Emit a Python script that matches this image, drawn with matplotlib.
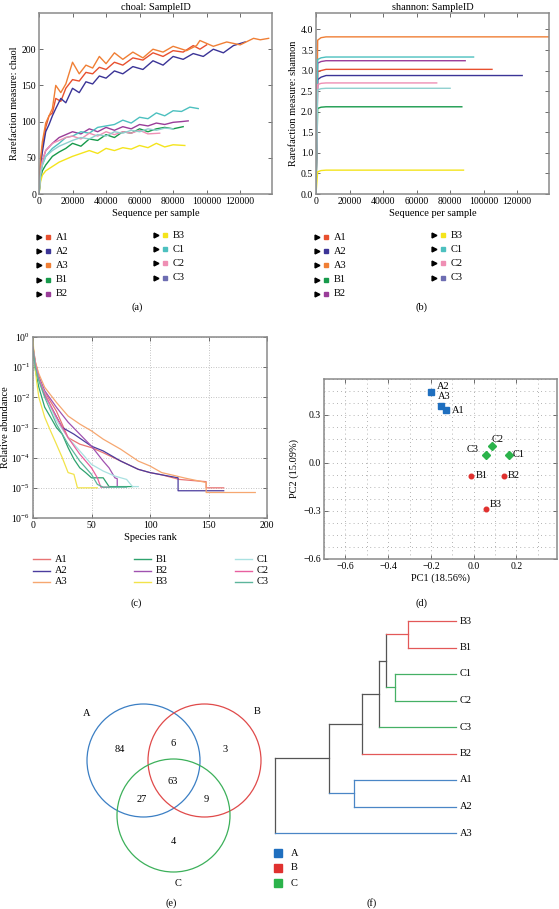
import numpy as np
import matplotlib
matplotlib.use('Agg')
import matplotlib.pyplot as plt
from matplotlib.patches import Circle
from matplotlib.ticker import MultipleLocator

plt.rcParams['font.family'] = ['Liberation Serif', 'DejaVu Serif']
plt.rcParams['mathtext.fontset'] = 'stix'
plt.rcParams['font.size'] = 7

W, H = 559, 909

# ---------------- data ----------------
samples = ['A1', 'A2', 'A3', 'B1', 'B2', 'B3', 'C1', 'C2', 'C3']

# legend colours of panels (a)/(b) and line colours
rare_colors = ['#e8502f', '#3b3497', '#f07f35', '#179a4b', '#9a3d99',
               '#f4e41c', '#4cc0bf', '#ef8fb4', '#6d6db2']
rare_line_colors = ['#e8502f', '#3b3497', '#f07f35', '#179a4b', '#9a3d99',
                    '#f4e41c', '#4cc0bf', '#ef8fb4', '#8fd0cf']

# (a) chao1 rarefaction
chao_x = {
    'A1': [0, 1000, 2000, 4000, 6000, 8000, 10000, 13000, 16000, 20000, 24000, 28000, 32000, 36000,
           40000, 45000, 50000, 56000, 62000, 68000, 74000, 80000, 86000, 92000, 96000, 100000],
    'A2': [0, 1000, 2000, 4000, 6000, 8000, 10000, 13000, 16000, 20000, 24000, 28000, 32000, 36000,
           40000, 45000, 50000, 56000, 62000, 68000, 74000, 80000, 86000, 92000, 98000, 104000,
           110000, 116000, 123000],
    'A3': [0, 1000, 2000, 4000, 6000, 8000, 10000, 13000, 16000, 20000, 24000, 28000, 32000, 36000,
           40000, 45000, 50000, 56000, 62000, 68000, 74000, 80000, 88000, 94000, 96000, 104000,
           112000, 120000, 128000, 132000, 137000],
    'B1': [0, 1000, 2000, 4000, 8000, 12000, 16000, 20000, 25000, 30000, 35000, 40000, 45000, 50000,
           55000, 60000, 65000, 70000, 75000, 80000, 86000],
    'B2': [0, 1000, 2000, 4000, 8000, 12000, 16000, 20000, 25000, 30000, 35000, 40000, 45000, 50000,
           55000, 60000, 65000, 70000, 75000, 80000, 85000, 89000],
    'B3': [0, 1000, 2000, 4000, 8000, 12000, 16000, 20000, 25000, 30000, 35000, 40000, 45000, 50000,
           55000, 60000, 65000, 70000, 75000, 80000, 87000],
    'C1': [0, 1000, 2000, 4000, 8000, 12000, 16000, 20000, 25000, 30000, 35000, 40000, 45000, 50000,
           55000, 60000, 65000, 70000, 75000, 80000, 85000, 90000, 95000],
    'C2': [0, 1000, 2000, 4000, 8000, 12000, 16000, 20000, 25000, 30000, 35000, 40000, 45000, 50000,
           55000, 60000, 65000, 72000],
    'C3': [0, 1000, 2000, 4000, 8000, 12000, 16000, 20000, 25000, 30000, 35000, 40000, 45000, 50000,
           55000, 60000, 65000, 70000, 75000, 80000],
}
chao_y = {
    'A1': [0, 45, 65, 92, 108, 112, 132, 128, 146, 158, 156, 168, 166, 175, 172, 182, 178, 188, 185,
           195, 190, 198, 196, 205, 200, 206],
    'A2': [0, 40, 58, 86, 96, 108, 118, 132, 126, 146, 140, 155, 152, 163, 160, 170, 166, 176, 172,
           184, 178, 190, 186, 194, 190, 200, 195, 205, 210],
    'A3': [0, 50, 72, 98, 108, 118, 150, 140, 152, 182, 166, 178, 174, 190, 180, 195, 186, 196, 188,
           200, 196, 204, 198, 205, 212, 204, 210, 206, 215, 213, 215],
    'B1': [0, 22, 32, 40, 52, 58, 63, 70, 66, 76, 74, 82, 78, 86, 84, 90, 86, 90, 92, 90, 93],
    'B2': [0, 30, 45, 60, 70, 78, 82, 86, 83, 90, 86, 92, 88, 93, 90, 96, 94, 98, 96, 99, 100, 101],
    'B3': [0, 18, 26, 32, 38, 44, 48, 52, 56, 60, 56, 63, 60, 64, 62, 67, 64, 70, 65, 68, 67],
    'C1': [0, 28, 40, 52, 63, 70, 78, 80, 86, 84, 92, 94, 96, 102, 98, 106, 104, 112, 108, 115, 114,
           120, 118],
    'C2': [0, 32, 46, 60, 70, 74, 78, 80, 76, 84, 80, 86, 82, 86, 84, 88, 83, 84],
    'C3': [0, 28, 40, 52, 60, 66, 70, 74, 78, 76, 82, 80, 86, 84, 88, 86, 90, 88, 91, 90],
}

# (b) shannon rarefaction
shan_x = {
    'A1': [0, 1000, 3000, 6000, 105000],
    'A2': [0, 1000, 3000, 6000, 123000],
    'A3': [0, 1000, 3000, 6000, 139000],
    'B1': [0, 1000, 3000, 6000, 87000],
    'B2': [0, 1000, 3000, 6000, 89000],
    'B3': [0, 1000, 3000, 6000, 88000],
    'C1': [0, 1000, 3000, 6000, 94000],
    'C2': [0, 1000, 3000, 6000, 72000],
    'C3': [0, 1000, 3000, 6000, 80000],
}
shan_y = {
    'A1': [0, 2.98, 3.0, 3.03, 3.03],
    'A2': [0, 2.78, 2.84, 2.88, 2.88],
    'A3': [0, 3.74, 3.80, 3.82, 3.82],
    'B1': [0, 2.08, 2.11, 2.12, 2.12],
    'B2': [0, 3.18, 3.22, 3.24, 3.24],
    'B3': [0, 0.54, 0.57, 0.58, 0.58],
    'C1': [0, 3.27, 3.31, 3.33, 3.33],
    'C2': [0, 2.66, 2.69, 2.70, 2.70],
    'C3': [0, 2.53, 2.56, 2.57, 2.57],
}

# (c) rank abundance
rank_colors = ['#e87474', '#4b3c9e', '#f6a770', '#2ea36e', '#a052b0',
               '#f2e34a', '#a9e1e1', '#e8609f', '#5cb59c']
rank_x = {
    'A1': [0, 2, 5, 10, 20, 30, 40, 50, 60, 75, 90, 100, 110, 125, 125, 148, 148, 163],
    'A2': [0, 2, 5, 10, 25, 35, 50, 60, 75, 90, 100, 110, 124, 124, 163],
    'A3': [0, 2, 5, 10, 20, 30, 40, 50, 60, 75, 90, 100, 110, 120, 130, 148, 148, 190],
    'B1': [0, 2, 5, 10, 15, 20, 25, 30, 35, 40, 45, 50, 60, 65, 85],
    'B2': [0, 2, 5, 10, 20, 30, 40, 50, 60, 65, 70, 72, 72],
    'B3': [0, 1, 3, 5, 10, 15, 20, 25, 30, 35, 38, 40, 55],
    'C1': [0, 2, 5, 10, 20, 30, 40, 50, 60, 70, 80, 85, 90],
    'C2': [0, 2, 5, 10, 20, 30, 40, 50, 55, 58, 65],
    'C3': [0, 2, 5, 10, 20, 30, 40, 50, 55, 60, 80],
}
rank_y = {
    'A1': [0.5, 0.15, 0.05, 0.015, 3.5e-3, 4.6e-4, 2.8e-4, 2.15e-4, 1.46e-4, 7.7e-5, 4.1e-5, 3.2e-5,
           2.7e-5, 1.9e-5, 1.9e-5, 1.6e-5, 1e-5, 1e-5],
    'A2': [0.45, 0.12, 0.04, 0.012, 1e-3, 6e-4, 2.4e-4, 1.67e-4, 7.7e-5, 4.1e-5, 3.2e-5, 2.7e-5,
           2.15e-5, 8e-6, 8e-6],
    'A3': [0.5, 0.15, 0.06, 0.0215, 6.8e-3, 2.4e-3, 1.3e-3, 7.7e-4, 4.1e-4, 1.9e-4, 7.7e-5, 5.3e-5,
           3.2e-5, 2.6e-5, 2.1e-5, 1.5e-5, 7e-6, 7e-6],
    'B1': [0.4, 0.08, 0.0215, 4.7e-3, 2.2e-3, 1e-3, 6e-4, 2.15e-4, 8.9e-5, 4.6e-5, 3.2e-5, 2.15e-5,
           2.15e-5, 1.1e-5, 1.1e-5],
    'B2': [0.45, 0.12, 0.045, 0.0166, 4.7e-3, 1.5e-3, 6e-4, 2.4e-4, 7.7e-5, 4.6e-5, 2.15e-5, 2e-5,
           1.2e-5],
    'B3': [0.9, 0.2, 0.036, 0.01, 2.2e-3, 7.7e-4, 2.8e-4, 1e-4, 3.2e-5, 2.8e-5, 1e-5, 1e-5, 1e-5],
    'C1': [0.45, 0.12, 0.04, 0.014, 1.7e-3, 4.6e-4, 1.67e-4, 6e-5, 3.6e-5, 2.45e-5, 1.9e-5, 1.1e-5,
           1.1e-5],
    'C2': [0.45, 0.12, 0.04, 0.0129, 2.2e-3, 4.6e-4, 1.3e-4, 4.6e-5, 2.15e-5, 1.05e-5, 1.05e-5],
    'C3': [0.4, 0.1, 0.035, 0.01, 1.3e-3, 2.8e-4, 7.7e-5, 2.8e-5, 1.3e-5, 1.05e-5, 1.05e-5],
}

# (d) PCoA
pc1 = [-0.13, -0.20, -0.153, -0.01, 0.14, 0.056, 0.165, 0.085, 0.056]
pc2 = [0.33, 0.444, 0.356, -0.081, -0.081, -0.288, 0.05, 0.106, 0.05]
pc_label_dx = [4, 4, -2, 3, 3, 3, 3, 0, -14]
pc_label_dy = [0, 4, 7, 0, 0, 3, 0, 5, 4]

# (e) Venn counts
venn_sets = ['A', 'B', 'C']
venn_counts = {'A': 84, 'AB': 6, 'B': 3, 'ABC': 63, 'AC': 27, 'BC': 9, 'C': 4}

# (f) dendrogram (leaves top to bottom, merges like a linkage table)
leaves = ['B3', 'B1', 'C1', 'C2', 'C3', 'B2', 'A1', 'A2', 'A3']
merges = [(0, 1, 0.265), (2, 3, 0.337), (9, 10, 0.387), (11, 4, 0.425),
          (12, 5, 0.519), (6, 7, 0.564), (13, 14, 0.702), (15, 8, 1.0)]

group_colors = {'A': '#1f6fbf', 'B': '#e0312f', 'C': '#2bb34b'}
dendro_colors = {'A': '#4a86c6', 'B': '#e35858', 'C': '#45b065'}
venn_colors = {'A': '#3b7fc4', 'B': '#e04a4a', 'C': '#3cb05a'}

# ---------------- layout helpers ----------------
fig = plt.figure(figsize=(W / 100, H / 100), dpi=100)


def px_axes(l, t, r, b):
    return fig.add_axes([l / W, 1 - b / H, (r - l) / W, (b - t) / H])


def style_box(ax):
    for s in ax.spines.values():
        s.set_color('#8a8a8a')
        s.set_linewidth(1.1)
    ax.tick_params(direction='in', top=True, right=True, length=3, width=0.6,
                   color='#555555', labelsize=7, pad=2)


ov = fig.add_axes([0, 0, 1, 1], zorder=-1)
ov.set_xlim(0, W)
ov.set_ylim(H, 0)
ov.axis('off')

# ---------------- (a) ----------------
ax = px_axes(39, 13, 272, 194)
for i, s in enumerate(samples):
    ax.plot(chao_x[s], chao_y[s], color=rare_line_colors[i], lw=1.0)
ax.set_xlim(0, 139000)
ax.set_ylim(0, 250)
ax.set_xticks([0, 20000, 40000, 60000, 80000, 100000, 120000])
ax.set_yticks([0, 50, 100, 150, 200])
style_box(ax)
ax.set_title('choal: SampleID', fontsize=7.5, pad=2)
ax.set_xlabel('Sequence per sample', fontsize=7.5, labelpad=2)
ax.set_ylabel('Rarefaction measure: chaol', fontsize=7.5, labelpad=2)

# ---------------- (b) ----------------
ax = px_axes(316, 13, 549, 194)
for i, s in enumerate(samples):
    ax.plot(shan_x[s], shan_y[s], color=rare_line_colors[i], lw=1.0)
ax.set_xlim(0, 139000)
ax.set_ylim(0, 4.4)
ax.set_xticks([0, 20000, 40000, 60000, 80000, 100000, 120000])
ax.set_yticks(np.arange(0, 4.01, 0.5))
style_box(ax)
ax.set_title('shannon: SampleID', fontsize=7.5, pad=2)
ax.set_xlabel('Sequence per sample', fontsize=7.5, labelpad=2)
ax.set_ylabel('Rarefaction measure: shannon', fontsize=7.5, labelpad=2)

# legends for (a) and (b)
for x0 in (39, 317):
    for i, s in enumerate(samples):
        if i < 5:
            x, y = x0, 237 + 14.2 * i
        else:
            x, y = x0 + 117, 235 + 14.2 * (i - 5)
        ov.plot(x, y, marker='>', color='black', ms=3.5)
        ov.plot(x + 8.5, y, marker='s', color=rare_colors[i], ms=3.5)
        ov.text(x + 17, y, s, va='center', ha='left', fontsize=7.5)
ov.text(137, 307, '(a)', ha='center', va='center', fontsize=7.5)
ov.text(422, 307, '(b)', ha='center', va='center', fontsize=7.5)

# ---------------- (c) ----------------
ax = px_axes(33, 337, 267, 518)
for i, s in enumerate(samples):
    ax.plot(rank_x[s], rank_y[s], color=rank_colors[i], lw=0.9, label=s)
ax.set_yscale('log')
ax.set_ylim(1e-6, 1)
ax.set_xlim(0, 200)
ax.set_xticks([0, 50, 100, 150, 200])
ax.grid(True, color='#b0b0b0', linestyle=(0, (1, 2)), lw=0.6)
ax.minorticks_off()
style_box(ax)
ax.set_xlabel('Species rank', fontsize=7.5, labelpad=2)
ax.set_ylabel('Relative abundance', fontsize=7.5, labelpad=1)
for i, s in enumerate(samples):
    x = 33 + 101 * (i // 3)
    y = 559 + 11.5 * (i % 3)
    ov.plot([x, x + 17], [y, y], color=rank_colors[i], lw=1.0)
    ov.text(x + 22, y, s, va='center', ha='left', fontsize=7.5)
ov.text(136, 603, '(c)', ha='center', va='center', fontsize=7.5)

# ---------------- (d) ----------------
ax = px_axes(324, 379, 557, 559)
markers = {'A': ('s', 4.6), 'B': ('o', 3.3), 'C': ('D', 3.6)}
for i, s in enumerate(samples):
    m, ms = markers[s[0]]
    ax.plot(pc1[i], pc2[i], marker=m, ms=ms, color=group_colors[s[0]], ls='none')
    ax.annotate(s, (pc1[i], pc2[i]), xytext=(pc_label_dx[i], pc_label_dy[i]),
                textcoords='offset points', va='center', ha='left', fontsize=7.5)
ax.set_xlim(-0.70, 0.39)
ax.set_ylim(-0.6, 0.525)
ax.xaxis.set_major_locator(MultipleLocator(0.2))
ax.xaxis.set_minor_locator(MultipleLocator(0.1))
ax.yaxis.set_major_locator(MultipleLocator(0.3))
ax.yaxis.set_minor_locator(MultipleLocator(0.075))
ax.grid(True, which='both', color='#9a9a9a', linestyle=(0, (1, 4)), lw=0.6)
style_box(ax)
ax.tick_params(which='minor', length=0)
ax.set_xlabel('PC1 (18.56%)', fontsize=7.5, labelpad=2)
ax.set_ylabel('PC2 (15.09%)', fontsize=7.5, labelpad=3)
ov.text(422, 603, '(d)', ha='center', va='center', fontsize=7.5)

# ---------------- (e) Venn ----------------
centers = {'A': (143.5, 760.5), 'B': (204.5, 760.5), 'C': (173.5, 815.5)}
for k in venn_sets:
    ov.add_patch(Circle(centers[k], 56.5, fill=False, ec=venn_colors[k], lw=0.9))
count_pos = {'A': (120, 750), 'AB': (173, 743), 'B': (225, 750), 'ABC': (173, 782),
             'AC': (142, 799), 'BC': (206, 799), 'C': (173, 842)}
for k, v in venn_counts.items():
    ov.text(*count_pos[k], str(v), ha='center', va='center', fontsize=7.5)
ov.text(87, 713, 'A', ha='center', va='center', fontsize=7.5)
ov.text(257, 712, 'B', ha='center', va='center', fontsize=7.5)
ov.text(178, 883, 'C', ha='center', va='center', fontsize=7.5)
ov.text(171, 903, '(e)', ha='center', va='center', fontsize=7.5)

# ---------------- (f) dendrogram ----------------
ax = px_axes(275, 621, 456, 833)
ax.set_xlim(1.0, 0)
ax.set_ylim(len(leaves) - 1, 0)
ax.axis('off')

node_y = {i: float(i) for i in range(len(leaves))}
node_h = {i: 0.0 for i in range(len(leaves))}
node_grp = {i: {leaves[i][0]} for i in range(len(leaves))}
for j, (a, b, h) in enumerate(merges):
    n = len(leaves) + j
    node_y[n] = (node_y[a] + node_y[b]) / 2
    node_h[n] = h
    node_grp[n] = node_grp[a] | node_grp[b]
    col_n = dendro_colors[next(iter(node_grp[n]))] if len(node_grp[n]) == 1 else '#555555'
    ax.plot([h, h], [node_y[a], node_y[b]], color=col_n, lw=0.9, clip_on=False)
    for c in (a, b):
        col_c = dendro_colors[next(iter(node_grp[c]))] if len(node_grp[c]) == 1 else '#555555'
        ax.plot([h, node_h[c]], [node_y[c], node_y[c]], color=col_c, lw=0.9, clip_on=False)
for i, s in enumerate(leaves):
    ax.text(-0.02, i, s, va='center', ha='left', fontsize=7.5)

for i, g in enumerate(venn_sets):
    ov.plot(278, 853 + 15 * i, marker='s', ms=5.5, color=group_colors[g])
    ov.text(291, 853 + 15 * i, g, va='center', ha='left', fontsize=7.5)
ov.text(372, 903, '(f)', ha='center', va='center', fontsize=7.5)

fig.savefig('out.png', dpi=100)
